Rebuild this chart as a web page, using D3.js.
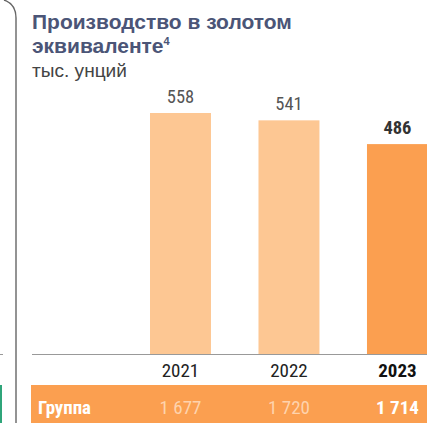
<!DOCTYPE html>
<html><head><meta charset="utf-8">
<script src="https://cdn.jsdelivr.net/npm/d3@7"></script>
<style>html,body{margin:0;padding:0;background:#fff;overflow:hidden}</style>
</head><body>
<script>
const years = ["2021", "2022", "2023"];
const values = [558, 541, 486];
const groupValues = ["1 677", "1 720", "1 714"];
const titleLines = ["Производство в золотом", "эквиваленте"];
const unit = "тыс. унций";
const groupLabel = "Группа";

const W = 427, H = 423;
const svg = d3.select("body").append("svg").attr("width", W).attr("height", H);
const font = "'Liberation Sans Narrow', 'Roboto Condensed', Roboto, sans-serif";
const tfont = "'Liberation Sans', Arial, sans-serif";

// fit text to a target width
function fit(sel, target) {
  const w = sel.node().getComputedTextLength();
  const fs = parseFloat(sel.attr("font-size"));
  sel.attr("font-size", fs * target / w);
}

// left frame
svg.append("path").attr("d", "M4,0 Q16,4 16,18 L16,423").attr("fill", "none").attr("stroke", "#666").attr("stroke-width", 1.4);
svg.append("line").attr("x1", 0).attr("x2", 3).attr("y1", 354.5).attr("y2", 354.5).attr("stroke", "#999").attr("stroke-width", 1);
svg.append("rect").attr("x", 0).attr("y", 385).attr("width", 2).attr("height", 38).attr("fill", "#2fa57a");

// title
const t = svg.append("text").attr("x", 32).attr("y", 29).attr("font-family", tfont)
  .attr("font-weight", "bold").attr("font-size", 18).attr("fill", "#4b5577").text(titleLines[0]);
fit(t, 260);
const tfs = t.attr("font-size");
const t2 = svg.append("text").attr("x", 32).attr("y", 53).attr("font-family", tfont)
  .attr("font-weight", "bold").attr("font-size", tfs).attr("fill", "#4b5577");
t2.append("tspan").text(titleLines[1]);
t2.append("tspan").attr("dy", -8).attr("font-size", 11).text("4");
const u = svg.append("text").attr("x", 32).attr("y", 77).attr("font-family", tfont)
  .attr("font-size", 15).attr("fill", "#444").text(unit);
fit(u, 95);

// scales
const baseY = 354;
const x = d3.scaleBand().domain(years).range([95.75, 482.2]).paddingInner(0.438).paddingOuter(0.5);
const y = d3.scaleLinear().domain([0, 558]).range([baseY, 113]);

svg.selectAll("rect.bar").data(values).enter().append("rect").attr("class", "bar")
  .attr("x", (d, i) => x(years[i])).attr("y", d => y(d))
  .attr("width", x.bandwidth()).attr("height", d => baseY - y(d))
  .attr("fill", (d, i) => i === 2 ? "#fb9f50" : "#fdc793");

svg.selectAll("text.val").data(values).enter().append("text").attr("class", "val")
  .attr("x", (d, i) => x(years[i]) + x.bandwidth() / 2).attr("y", d => y(d) - 10)
  .attr("text-anchor", "middle").attr("font-family", font).attr("font-size", 18.5)
  .attr("font-weight", (d, i) => i === 2 ? "bold" : "normal")
  .attr("fill", (d, i) => i === 2 ? "#333" : "#555").text(d => d);

// axis line
svg.append("line").attr("x1", 32).attr("x2", W).attr("y1", baseY + 0.5).attr("y2", baseY + 0.5).attr("stroke", "#999").attr("stroke-width", 1.2);

svg.selectAll("text.yr").data(years).enter().append("text").attr("class", "yr")
  .attr("x", d => x(d) + x.bandwidth() / 2).attr("y", 377)
  .attr("text-anchor", "middle").attr("font-family", font).attr("font-size", 19)
  .attr("font-weight", (d, i) => i === 2 ? "bold" : "normal")
  .attr("fill", (d, i) => i === 2 ? "#111" : "#222").text(d => d);

// group band
svg.append("rect").attr("x", 31).attr("y", 385).attr("width", W - 31).attr("height", 38).attr("fill", "#fb9f50");
const g = svg.append("text").attr("x", 38).attr("y", 414).attr("font-family", font).attr("font-size", 18).attr("font-weight", "bold").attr("fill", "#fff").text(groupLabel);
fit(g, 53);
svg.selectAll("text.gv").data(groupValues).enter().append("text").attr("class", "gv")
  .attr("x", (d, i) => x(years[i]) + x.bandwidth() / 2).attr("y", 414)
  .attr("text-anchor", "middle").attr("font-family", font).attr("font-size", 19)
  .attr("font-weight", (d, i) => i === 2 ? "bold" : "normal")
  .attr("fill", (d, i) => i === 2 ? "#fff" : "#fed3ad").text(d => d);
</script>
</body></html>
